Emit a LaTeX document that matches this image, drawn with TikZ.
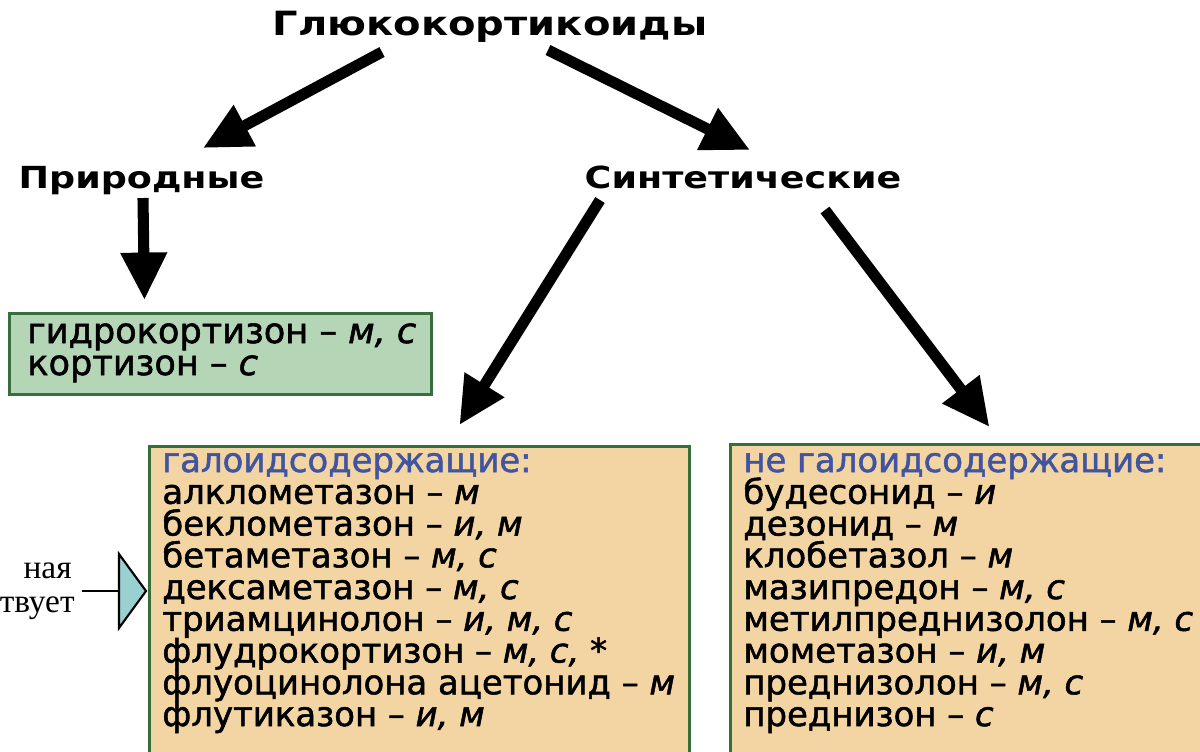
\documentclass[tikz,border=0pt]{standalone}
\usepackage{fontspec}
\setmainfont{DejaVu Sans}
\newfontfamily\hdrfont[FakeStretch=1.2]{DejaVu Sans}
\newfontfamily\itemfont[FakeBold=1.5]{DejaVu Sans}
\newfontfamily\notefont{Liberation Serif}
\usetikzlibrary{arrows.meta,calc}

\definecolor{boxtan}{RGB}{243,213,163}
\definecolor{boxmint}{RGB}{180,213,182}
\definecolor{boxgreen}{RGB}{56,110,62}
\definecolor{hdblue}{RGB}{64,84,160}
\definecolor{tricyan}{RGB}{153,208,208}

\tikzset{
  hdr/.style={font=\hdrfont\bfseries\fontsize{17.3}{18}\selectfont, inner sep=0pt, anchor=base},
  item/.style={font=\itemfont\fontsize{19.3}{18}\selectfont, inner sep=0pt, anchor=base west},
  note/.style={font=\notefont\fontsize{19}{19}\selectfont, inner sep=0pt, anchor=base east},
  bigarrow/.style={line width=6.3pt, -{Triangle[length=27pt,width=25pt]}},
  listbox/.style={draw=boxgreen, line width=1.7pt, inner sep=0pt, anchor=north west},
}

\begin{document}
\begin{tikzpicture}[x=0.02cm,y=-0.02cm]
\useasboundingbox (0,0) rectangle (1200,751);
\clip (0,0) rectangle (1200,751);

% headings
\node[hdr, font=\hdrfont\bfseries\fontsize{19}{19}\selectfont] (glk) at (490,35) {Глюкокортикоиды};
\node[hdr] (prir) at (141.5,188) {Природные};
\node[hdr] (sint) at (743,188) {Синтетические};

% boxes
\node[listbox, fill=boxmint, minimum width=8.44cm, minimum height=1.62cm] (estbox) at (8,312) {};
\node[listbox, fill=boxtan, minimum width=10.8cm, minimum height=6.6cm] (hal) at (148,445) {};
\node[listbox, fill=boxtan, minimum width=10.1cm, minimum height=6.6cm] (nehal) at (729,443) {};

% natural
\node[item, font=\itemfont\fontsize{20}{20}\selectfont] (est1) at ($(estbox.north west)+(19,31)$) {гидрокортизон – \textit{м, с}};
\node[item, font=\itemfont\fontsize{20}{20}\selectfont] (est2) at ($(est1.base west)+(0,32)$) {кортизон – \textit{с}};

% halogenated
\node[item, text=hdblue] (halh) at ($(hal.north west)+(14,27)$) {галоидсодержащие:};
\foreach \txt [count=\i] in {{алклометазон – \textit{м}},{беклометазон – \textit{и, м}},
    {бетаметазон – \textit{м, с}},{дексаметазон – \textit{м, с}},
    {триамцинолон – \textit{и, м, с}},{флудрокортизон – \textit{м, с, *}},
    {флуоцинолона ацетонид – \textit{м}},{флутиказон – \textit{и, м}}}
  \node[item] (hal\i) at ($(hal.north west)+(14,27+31.75*\i)$) {\txt};

% non-halogenated
\node[item, text=hdblue] (nehalh) at ($(nehal.north west)+(14,29)$) {не галоидсодержащие:};
\foreach \txt [count=\i] in {{будесонид – \textit{и}},{дезонид – \textit{м}},
    {клобетазол – \textit{м}},{мазипредон – \textit{м, с}},
    {метилпреднизолон – \textit{м, с}},{мометазон – \textit{и, м}},
    {преднизолон – \textit{м, с}},{преднизон – \textit{с}}}
  \node[item] (nehal\i) at ($(nehal.north west)+(14,29+31.75*\i)$) {\txt};

% arrows
\draw[bigarrow] ($(glk.base)+(-108,17)$) -- ($(prir.base)+(61.5,-40)$);
\draw[bigarrow] ($(glk.base)+(58,15)$) -- ($(sint.base)+(7,-38)$);
\draw[bigarrow] ($(prir.base)+(1.5,10)$) -- ($(estbox.north)+(-76,-12)$);
\draw[bigarrow] ($(sint.base)+(-143,12)$) -- ($(hal.north)+(40,-20)$);
\draw[bigarrow] ($(sint.base)+(82,22)$) -- ($(nehal.north)+(6.5,-16)$);

% cut-off note on the left
\node[note] (nt1) at (72,578) {ная};
\node[note] (nt2) at (75,612) {твует};
\coordinate (trin) at (119,591);
\draw[fill=tricyan, line width=1.2pt] (119,554) -- (146,591) -- (119,628) -- cycle;
\draw[line width=1.5pt] ($(nt2.base east)+(7,-21)$) -- (trin);
\end{tikzpicture}
\end{document}
